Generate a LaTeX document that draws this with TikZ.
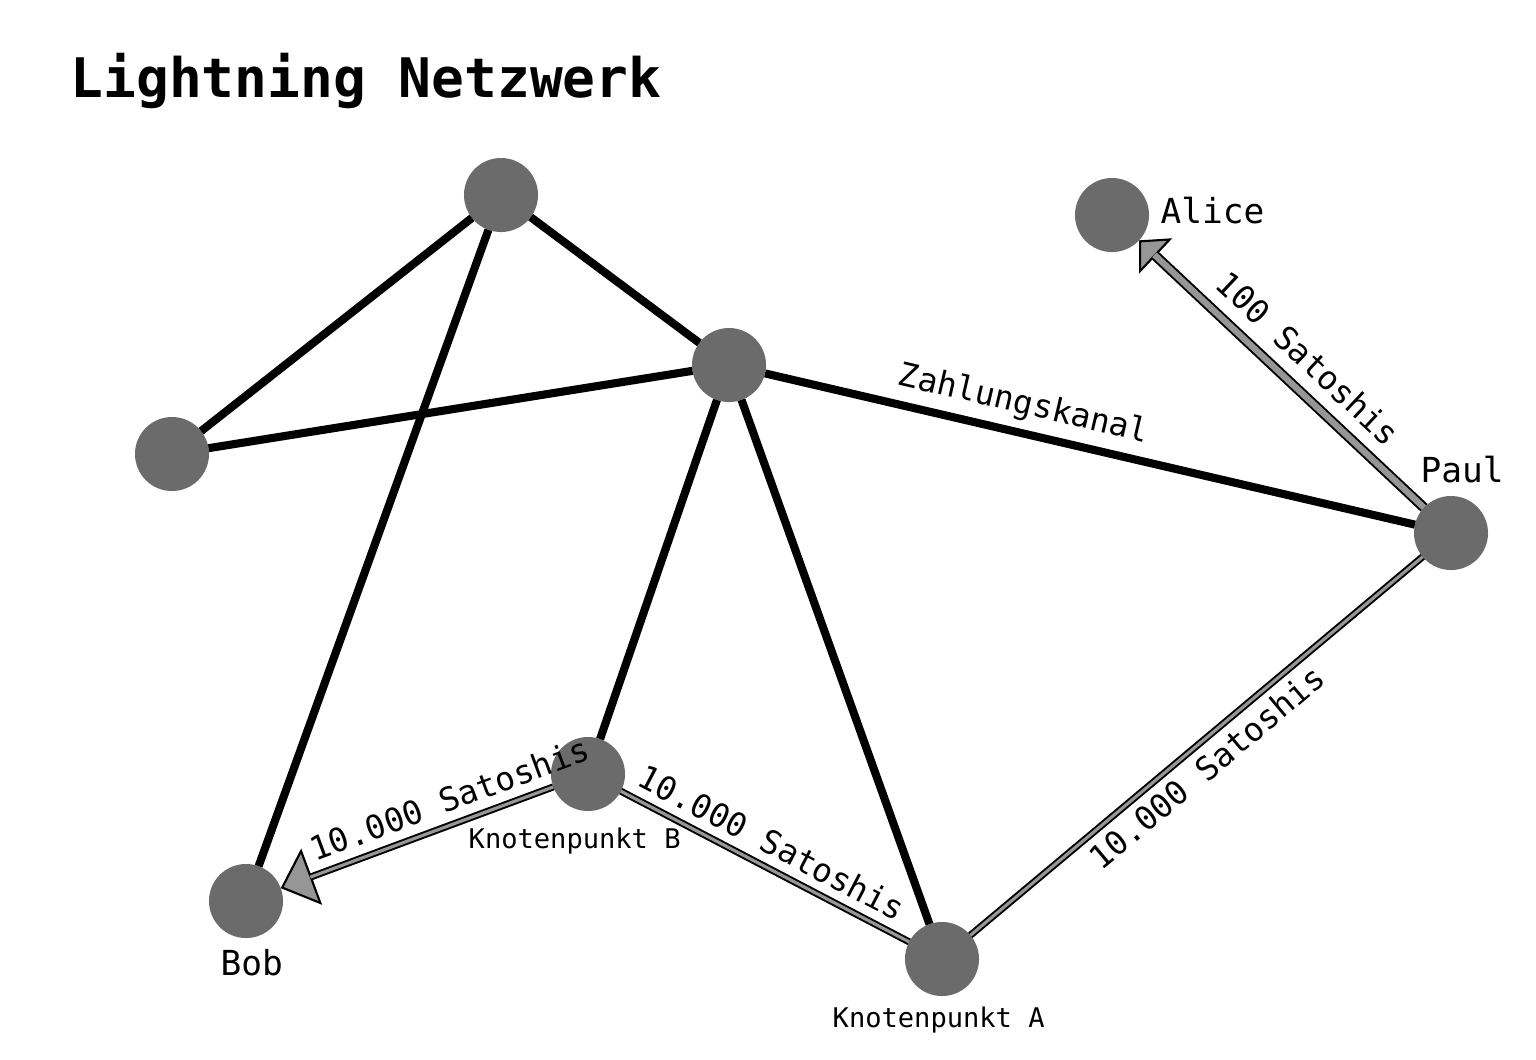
\documentclass[tikz,border=0pt]{standalone}
\usepackage{fontspec}
\setmonofont{DejaVu Sans Mono}
\usetikzlibrary{arrows.meta}
\definecolor{nodegray}{RGB}{107,107,107}
\definecolor{paygray}{RGB}{150,150,150}
\begin{document}
\begin{tikzpicture}[x=0.01cm,y=-0.01cm,
  peer/.style={circle, fill=nodegray, minimum size=0.74cm, inner sep=0pt, outer sep=0pt},
  chan/.style={line width=2.3pt, draw=black},
  pay/.style={draw=black, line width=0.55pt, double=paygray, double distance=0.9pt},
  paywide/.style={draw=black, line width=0.55pt, double=paygray, double distance=1.8pt},
  tipline/.style={draw=black, line width=0.6pt},
  lbl/.style={font=\ttfamily\fontsize{9.3}{11}\selectfont, inner sep=0pt, text=black},
  big/.style={font=\ttfamily\fontsize{9.8}{12}\selectfont, inner sep=0pt, text=black},
  small/.style={font=\ttfamily\fontsize{7.7}{9}\selectfont, inner sep=0pt, text=black},
]
\useasboundingbox (0,0) rectangle (1536,1059);
\fill[white] (0,0) rectangle (1536,1059);

% peers
\node[peer] (T) at (501,195) {};
\node[peer] (L) at (172,454) {};
\node[peer] (M) at (729,365) {};
\node[peer] (Alice) at (1112,215) {};
\node[peer] (Paul) at (1451,533) {};
\node[peer] (B) at (588,774) {};
\node[peer] (Bob) at (246,901) {};
\node[peer] (A) at (942,959) {};

% channels
\draw[chan] (T) -- (L);
\draw[chan] (T) -- (Bob);
\draw[chan] (T) -- (M);
\draw[chan] (L) -- (M);
\draw[chan] (M) -- (Paul) node[lbl, sloped, pos=0.388, anchor=base, yshift=5.4pt] (zk) {Zahlungskanal};
\draw[chan] (M) -- (B);
\draw[chan] (M) -- (A);

% payments
\draw[tipline, -{Triangle[length=6.5pt, width=13.7pt, fill=paygray]}] (Paul) -- (Alice);
\draw[paywide, shorten >=6pt] (Paul) -- (Alice)
  node[lbl, sloped, pos=0.477, anchor=base, yshift=5pt] (p1) {100 Satoshis};

\draw[tipline, -{Triangle[length=9.4pt, width=17pt, fill=paygray]}] (B) -- (Bob);
\draw[pay, shorten >=9pt] (B) -- (Bob)
  node[lbl, sloped, pos=0.349, anchor=base, yshift=3.6pt] (p2) {10.000 Satoshis};

\draw[pay] (B) -- (A)
  node[lbl, sloped, pos=0.485, anchor=base, yshift=3.5pt] (p3) {10.000 Satoshis};

\draw[pay] (A) -- (Paul)
  node[lbl, sloped, pos=0.49, anchor=base, yshift=-10pt] (p4) {10.000 Satoshis};

% labels
\node[anchor=base west, inner sep=0pt, font=\ttfamily\bfseries\fontsize{15.5}{18}\selectfont] (title) at (70,97) {Lightning Netzwerk};
\node[big, anchor=base west] (alicelbl) at (1160,223) {Alice};
\node[big, anchor=base west] (paullbl) at (1420,482) {Paul};
\node[big, anchor=base west] (boblbl) at (220,975) {Bob};
\node[small, anchor=base west] (kb) at (468,848) {Knotenpunkt B};
\node[small, anchor=base west] (ka) at (832,1027) {Knotenpunkt A};
\end{tikzpicture}
\end{document}
